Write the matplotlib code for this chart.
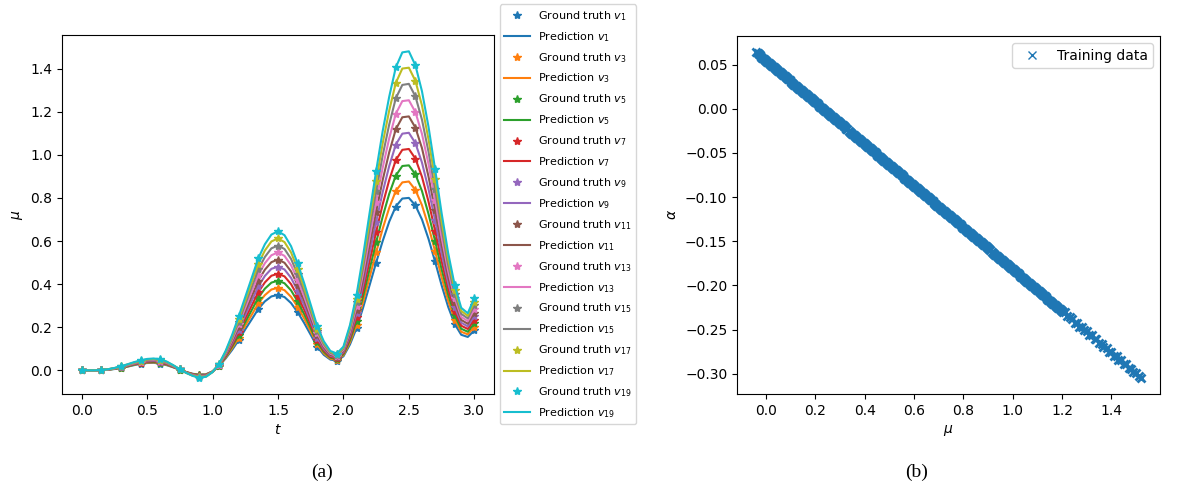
import numpy as np
import matplotlib.pyplot as plt

# time grid of the curves (step 0.05), truth samples every 0.15
t = np.round(np.arange(61) * 0.05, 2)

mu_v1 = [0, 0, 0, .001, .003, .006, .011, .017, .024, .030,
         .034, .035, .031, .024, .014, .003, -.008, -.016, -.020, -.018,
         -.005, .020, .055, .095, .140, .190, .237, .285, .320, .343,
         .350, .340, .312, .270, .220, .165, .110, .072, .050, .045,
         .065, .120, .195, .290, .395, .500, .600, .690, .760, .797,
         .800, .765, .700, .610, .505, .395, .295, .215, .165, .155,
         .185]
mu_v3 = [0, 0, 0, .001, .003, .007, .012, .018, .026, .032,
         .036, .037, .033, .026, .015, .003, -.008, -.017, -.022, -.019,
         -.005, .021, .059, .103, .152, .207, .258, .311, .349, .375,
         .383, .372, .341, .295, .241, .181, .121, .079, .054, .049,
         .070, .130, .212, .317, .432, .547, .657, .754, .832, .872,
         .876, .837, .766, .668, .553, .432, .323, .235, .179, .167,
         .202]
mu_v5 = [0, 0, 0, .001, .003, .007, .013, .019, .027, .034,
         .038, .039, .036, .028, .016, .003, -.009, -.018, -.023, -.021,
         -.006, .022, .063, .111, .164, .223, .280, .337, .379, .407,
         .416, .404, .371, .320, .261, .196, .131, .086, .059, .052,
         .075, .140, .229, .343, .469, .594, .713, .819, .903, .948,
         .951, .909, .832, .726, .601, .469, .351, .255, .193, .179,
         .218]
mu_v7 = [0, 0, 0, .001, .004, .008, .014, .021, .029, .035,
         .040, .042, .038, .030, .017, .004, -.009, -.019, -.025, -.022,
         -.006, .023, .067, .118, .177, .240, .301, .363, .408, .439,
         .448, .436, .400, .345, .282, .212, .142, .093, .063, .056,
         .080, .150, .247, .370, .507, .642, .770, .883, .975, 1.023,
         1.027, .982, .898, .783, .648, .507, .378, .275, .207, .192,
         .235]
mu_v9 = [0, 0, 0, .001, .004, .008, .015, .022, .030, .037,
         .042, .044, .040, .032, .018, .004, -.010, -.020, -.026, -.023,
         -.006, .024, .071, .126, .189, .257, .323, .389, .438, .471,
         .481, .468, .429, .370, .302, .227, .152, .100, .068, .060,
         .085, .160, .264, .397, .544, .689, .827, .948, 1.047, 1.098,
         1.102, 1.054, .964, .841, .696, .544, .406, .295, .221, .204,
         .252]
mu_v11 = [0, 0, 0, .002, .004, .009, .015, .023, .032, .039,
          .045, .046, .043, .033, .020, .004, -.010, -.022, -.028, -.025,
          -.007, .026, .074, .134, .201, .273, .344, .416, .467, .502,
          .514, .499, .459, .396, .323, .243, .163, .107, .072, .063,
          .090, .170, .281, .423, .581, .736, .883, 1.012, 1.118, 1.174,
          1.178, 1.126, 1.031, .899, .744, .581, .434, .315, .234, .216,
          .268]
mu_v13 = [0, 0, 0, .002, .004, .009, .016, .024, .033, .041,
          .047, .048, .045, .035, .021, .004, -.011, -.023, -.029, -.026,
          -.007, .027, .078, .142, .213, .290, .366, .442, .497, .534,
          .547, .531, .488, .421, .343, .258, .173, .114, .077, .067,
          .095, .180, .298, .450, .618, .783, .940, 1.077, 1.190, 1.249,
          1.253, 1.198, 1.097, .957, .792, .618, .462, .335, .248, .228,
          .285]
mu_v15 = [0, 0, 0, .002, .005, .010, .017, .026, .035, .042,
          .049, .051, .047, .037, .022, .005, -.011, -.024, -.031, -.027,
          -.007, .028, .082, .149, .226, .307, .387, .468, .526, .566,
          .579, .563, .517, .446, .364, .274, .184, .121, .081, .071,
          .100, .190, .316, .477, .656, .831, .997, 1.141, 1.262, 1.324,
          1.329, 1.271, 1.163, 1.014, .839, .656, .489, .355, .262, .241,
          .302]
mu_v17 = [0, 0, 0, .002, .005, .010, .018, .027, .036, .044,
          .051, .053, .050, .039, .023, .005, -.012, -.025, -.032, -.029,
          -.008, .029, .086, .157, .238, .323, .409, .494, .556, .598,
          .612, .595, .547, .471, .384, .289, .194, .128, .086, .074,
          .105, .200, .333, .503, .693, .878, 1.053, 1.206, 1.333, 1.400,
          1.404, 1.343, 1.229, 1.072, .887, .693, .517, .375, .276, .253,
          .318]
mu_v19 = [0, 0, 0, .002, .005, .011, .019, .028, .038, .046,
          .053, .055, .052, .041, .024, .005, -.012, -.026, -.034, -.030,
          -.008, .030, .090, .165, .250, .340, .430, .520, .585, .630,
          .645, .627, .576, .496, .405, .305, .205, .135, .090, .078,
          .110, .210, .350, .530, .730, .925, 1.110, 1.270, 1.405, 1.475,
          1.480, 1.415, 1.295, 1.130, .935, .730, .545, .395, .290, .265,
          .335]

curves = [mu_v1, mu_v3, mu_v5, mu_v7, mu_v9, mu_v11, mu_v13, mu_v15, mu_v17, mu_v19]
v_idx = [1, 3, 5, 7, 9, 11, 13, 15, 17, 19]

# training pairs (mu, alpha)
mu_train = [
    -.040, -.035, -.030, -.025, -.020, -.015, -.010, -.005, .000, .005,
    .010, .015, .020, .025, .030, .035, .040, .045, .050, .055,
    .060, .065, .070, .075, .080, .085, .090, .095, .100, .105,
    .110, .115, .120, .125, .130, .135, .140, .145, .150, .155,
    .160, .165, .170, .175, .180, .185, .190, .195, .200, .205,
    .210, .215, .220, .225, .230, .235, .240, .245, .250, .255,
    .260, .265, .270, .275, .280, .285, .290, .295, .300, .305,
    .310, .315, .320, .325, .330, .335, .340, .345, .350, .355,
    .360, .365, .370, .375, .380, .385, .390, .395, .400, .405,
    .410, .415, .420, .425, .430, .435, .440, .445, .450, .455,
    .460, .465, .470, .475, .480, .485, .490, .495, .500, .505,
    .510, .515, .520, .525, .530, .535, .540, .545, .550, .555,
    .560, .565, .570, .575, .580, .585, .590, .595, .600, .605,
    .610, .615, .620, .625, .630, .635, .640, .645, .650, .655,
    .660, .665, .670, .675, .680, .685, .690, .695, .700, .705,
    .710, .715, .720, .725, .730, .735, .740, .745, .750, .755,
    .760, .765, .770, .775, .780, .785, .790, .795, .800, .805,
    .810, .815, .820, .825, .830, .835, .840, .845, .850, .855,
    .860, .865, .870, .875, .880, .885, .890, .895, .900, .905,
    .910, .915, .920, .925, .930, .935, .940, .945, .950, .955,
    .960, .965, .970, .975, .980, .985, .990, .995, 1.000, 1.005,
    1.010, 1.015, 1.020, 1.025, 1.030, 1.035, 1.040, 1.045, 1.050, 1.055,
    1.060, 1.065, 1.070, 1.075, 1.080, 1.085, 1.090, 1.095, 1.100, 1.105,
    1.110, 1.115, 1.120, 1.125, 1.130, 1.135, 1.140, 1.145, 1.150, 1.155,
    1.160, 1.165, 1.170, 1.175, 1.180, 1.185, 1.190, 1.195, 1.200, 1.205,
    1.213, 1.222, 1.233, 1.241, 1.252, 1.259, 1.271, 1.282, 1.288, 1.302,
    1.309, 1.321, 1.332, 1.338, 1.351, 1.362, 1.368, 1.381, 1.392, 1.399,
    1.411, 1.422, 1.428, 1.441, 1.452, 1.459, 1.471, 1.482, 1.489, 1.501,
    1.512, 1.520]
alpha_train = [
    .0640, .0628, .0616, .0604, .0592, .0580, .0569, .0557, .0545, .0533,
    .0521, .0510, .0498, .0486, .0474, .0462, .0451, .0439, .0427, .0415,
    .0403, .0392, .0380, .0368, .0356, .0344, .0332, .0321, .0309, .0297,
    .0285, .0273, .0262, .0250, .0238, .0226, .0214, .0203, .0191, .0179,
    .0167, .0155, .0144, .0132, .0120, .0108, .0096, .0084, .0073, .0061,
    .0049, .0037, .0025, .0014, .0002, -.0010, -.0022, -.0034, -.0045, -.0057,
    -.0069, -.0081, -.0093, -.0105, -.0116, -.0128, -.0140, -.0152, -.0164, -.0175,
    -.0187, -.0199, -.0211, -.0223, -.0234, -.0246, -.0258, -.0270, -.0282, -.0294,
    -.0305, -.0317, -.0329, -.0341, -.0353, -.0364, -.0376, -.0388, -.0400, -.0412,
    -.0423, -.0435, -.0447, -.0459, -.0471, -.0483, -.0494, -.0506, -.0518, -.0530,
    -.0542, -.0553, -.0565, -.0577, -.0589, -.0601, -.0612, -.0624, -.0636, -.0648,
    -.0660, -.0671, -.0683, -.0695, -.0707, -.0719, -.0731, -.0742, -.0754, -.0766,
    -.0778, -.0790, -.0801, -.0813, -.0825, -.0837, -.0849, -.0860, -.0872, -.0884,
    -.0896, -.0908, -.0919, -.0931, -.0943, -.0955, -.0967, -.0979, -.0990, -.1002,
    -.1014, -.1026, -.1037, -.1049, -.1061, -.1073, -.1085, -.1097, -.1108, -.1120,
    -.1132, -.1144, -.1156, -.1167, -.1179, -.1191, -.1203, -.1215, -.1227, -.1238,
    -.1250, -.1262, -.1274, -.1286, -.1297, -.1309, -.1321, -.1333, -.1345, -.1356,
    -.1368, -.1380, -.1392, -.1404, -.1415, -.1427, -.1439, -.1451, -.1463, -.1475,
    -.1486, -.1498, -.1510, -.1522, -.1534, -.1545, -.1557, -.1569, -.1581, -.1593,
    -.1604, -.1616, -.1628, -.1640, -.1652, -.1664, -.1675, -.1687, -.1699, -.1711,
    -.1723, -.1734, -.1746, -.1758, -.1770, -.1782, -.1793, -.1805, -.1817, -.1829,
    -.1841, -.1852, -.1864, -.1876, -.1888, -.1900, -.1912, -.1923, -.1935, -.1947,
    -.1959, -.1971, -.1982, -.1994, -.2006, -.2018, -.2030, -.2041, -.2053, -.2065,
    -.2077, -.2089, -.2100, -.2112, -.2124, -.2136, -.2148, -.2160, -.2171, -.2183,
    -.2195, -.2207, -.2219, -.2230, -.2242, -.2254, -.2266, -.2278, -.2289, -.2301,
    -.2305, -.2348, -.2362, -.2378, -.2420, -.2422, -.2465, -.2472, -.2510, -.2518,
    -.2560, -.2566, -.2608, -.2610, -.2655, -.2660, -.2700, -.2706, -.2750, -.2752,
    -.2796, -.2800, -.2842, -.2848, -.2890, -.2895, -.2936, -.2942, -.2983, -.2990,
    -.3030, -.3045]

fig = plt.figure(figsize=(11.94, 4.86), dpi=100)

# (a) curves for each v
ax1 = fig.add_axes([0.0519, 0.1893, 0.3618, 0.7387])
for i, (mu, k) in enumerate(zip(curves, v_idx)):
    c = f'C{i}'
    ax1.plot(t[::3], mu[::3], '*', color=c, label=rf'Ground truth $v_{{{k}}}$')
    ax1.plot(t, mu, '-', color=c, label=rf'Prediction $v_{{{k}}}$')
ax1.set_xlabel(r'$t$')
ax1.set_ylabel(r'$\mu$')
ax1.legend(loc='center left', bbox_to_anchor=(1.0, 0.5), fontsize=8,
           labelspacing=0.64, handlelength=2.3)

# (b) training data
ax2 = fig.add_axes([0.6173, 0.1893, 0.3543, 0.7366])
ax2.plot(mu_train, alpha_train, 'x', color='C0', ms=5.5, mew=2.0,
         label='Training data')
ax2.set_xlabel(r'$\mu$')
ax2.set_ylabel(r'$\alpha$')
leg = ax2.legend(loc='upper right')
for h in leg.legend_handles:
    h.set_markersize(6)
    h.set_markeredgewidth(1.0)

fig.text(322 / 1194, 1 - 472 / 486, '(a)', ha='center', va='center',
         family='Liberation Serif', fontsize=14)
fig.text(917 / 1194, 1 - 472 / 486, '(b)', ha='center', va='center',
         family='Liberation Serif', fontsize=14)

fig.savefig('out.png', dpi=100)
